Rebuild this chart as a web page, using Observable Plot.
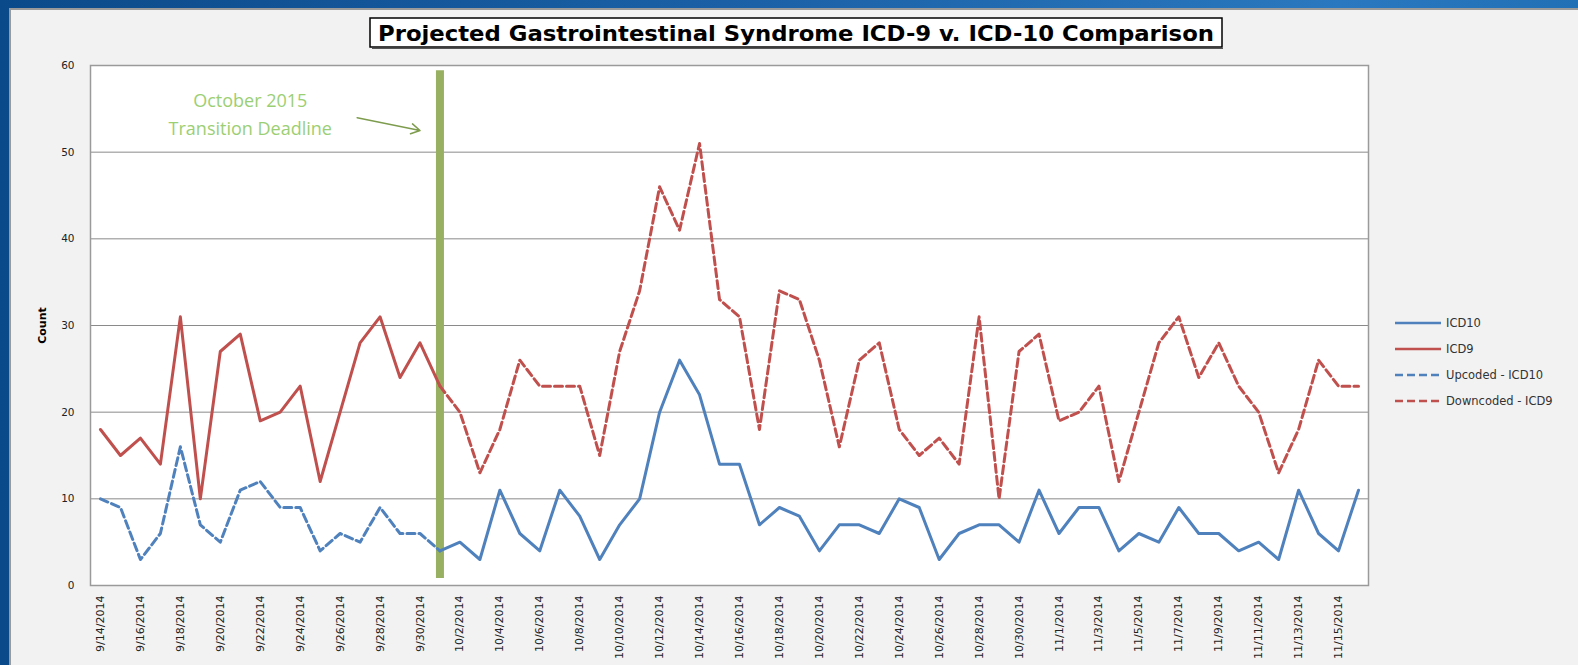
<!DOCTYPE html>
<html>
<head>
<meta charset="utf-8">
<script src="https://cdn.jsdelivr.net/npm/d3@7"></script>
<script src="https://cdn.jsdelivr.net/npm/@observablehq/plot@0.6"></script>
<style>
  html, body { margin: 0; padding: 0; }
  body {
    width: 1578px; height: 665px; overflow: hidden; position: relative;
    background: linear-gradient(90deg, #0b4a8a 0%, #1c62a8 50%, #2a78bf 85%, #2170b6 100%);
    font-family: "DejaVu Sans", Verdana, sans-serif;
  }
  #panel {
    position: absolute; left: 9px; top: 8px; right: 0; bottom: 0;
    background: #f2f2f2; border-top: 2px solid #9a9a9a; border-left: 2px solid #9a9a9a;
  }
  #chart { position: absolute; left: 0; top: 0; }
  #title { position: absolute; left: 369px; top: 17px; }
  #title text { font-family: "DejaVu Sans", sans-serif; font-stretch: condensed; font-weight: bold; }
  #legend { position: absolute; left: 1395px; top: 310px; font-size: 11.5px; color: #333; }
  .row { display: flex; align-items: center; height: 26px; }
  .row svg { margin-right: 5px; }
</style>
</head>
<body>
<div id="panel"></div>
<div id="chart"></div>
<svg id="title" width="856" height="33">
  <rect x="1" y="1" width="852" height="29" fill="#ffffff" stroke="#000" stroke-width="1.5"></rect>
  <line x1="3" y1="31.5" x2="854" y2="31.5" stroke="#555" stroke-width="1"></line>
  <text x="427" y="23.5" text-anchor="middle" font-size="21" textLength="836" lengthAdjust="spacingAndGlyphs" fill="#000">Projected Gastrointestinal Syndrome ICD-9 v. ICD-10 Comparison</text>
</svg>
<div id="legend"></div>
<script>
// ---- data ----
const dates = [
  "9/14/2014","9/15/2014","9/16/2014","9/17/2014","9/18/2014","9/19/2014","9/20/2014","9/21/2014",
  "9/22/2014","9/23/2014","9/24/2014","9/25/2014","9/26/2014","9/27/2014","9/28/2014","9/29/2014",
  "9/30/2014","10/1/2014","10/2/2014","10/3/2014","10/4/2014","10/5/2014","10/6/2014","10/7/2014",
  "10/8/2014","10/9/2014","10/10/2014","10/11/2014","10/12/2014","10/13/2014","10/14/2014","10/15/2014",
  "10/16/2014","10/17/2014","10/18/2014","10/19/2014","10/20/2014","10/21/2014","10/22/2014","10/23/2014",
  "10/24/2014","10/25/2014","10/26/2014","10/27/2014","10/28/2014","10/29/2014","10/30/2014","10/31/2014",
  "11/1/2014","11/2/2014","11/3/2014","11/4/2014","11/5/2014","11/6/2014","11/7/2014","11/8/2014",
  "11/9/2014","11/10/2014","11/11/2014","11/12/2014","11/13/2014","11/14/2014","11/15/2014","11/16/2014"
];
const tickLabels = [
  "9/14/2014","9/16/2014","9/18/2014","9/20/2014","9/22/2014","9/24/2014","9/26/2014","9/28/2014","9/30/2014",
  "10/2/2014","10/4/2014","10/6/2014","10/8/2014","10/10/2014","10/12/2014","10/14/2014","10/16/2014",
  "10/18/2014","10/20/2014","10/22/2014","10/24/2014","10/26/2014","10/28/2014","10/30/2014",
  "11/1/2014","11/3/2014","11/5/2014","11/7/2014","11/9/2014","11/11/2014","11/13/2014","11/15/2014"
];
const yTicks = [0, 10, 20, 30, 40, 50, 60];
const transitionDate = "10/1/2014";

// 9/14 – 10/1
const icd9 = [18,15,17,14,31,10,27,29,19,20,23,12,20,28,31,24,28,23];
const upcodedIcd10 = [10,9,3,6,16,7,5,11,12,9,9,4,6,5,9,6,6,4];
// 10/1 – 11/16
const downcodedIcd9 = [23,20,13,18,26,23,23,23,15,27,34,46,41,51,33,31,18,34,33,26,16,26,28,18,
  15,17,14,31,10,27,29,19,20,23,12,20,28,31,24,28,23,20,13,18,26,23,23];
const icd10 = [4,5,3,11,6,4,11,8,3,7,10,20,26,22,14,14,7,9,8,4,7,7,6,10,
  9,3,6,7,7,5,11,6,9,9,4,6,5,9,6,6,4,5,3,11,6,4,11];

const seriesNames = ["ICD10", "ICD9", "Upcoded - ICD10", "Downcoded - ICD9"];
const seriesColors = ["#4F81BD", "#C0504D", "#4F81BD", "#C0504D"];
const seriesDash = [null, null, "8,4", "8,4"];

// ---- tables ----
const preDates = dates.slice(0, icd9.length);
const postDates = dates.slice(dates.indexOf(transitionDate));
const toTable = (ds, vs) => ds.map((d, i) => ({date: d, value: vs[i]}));
const icd9Table = toTable(preDates, icd9);
const upTable = toTable(preDates, upcodedIcd10);
const downTable = toTable(postDates, downcodedIcd9);
const icd10Table = toTable(postDates, icd10);

const chart = Plot.plot({
  width: 1578,
  height: 665,
  marginLeft: 90,
  marginTop: 65,
  marginRight: 210,
  marginBottom: 80,
  style: {background: "transparent", fontFamily: "'DejaVu Sans', Verdana, sans-serif", overflow: "visible"},
  x: {type: "point", domain: dates, padding: 0.5},
  y: {domain: [0, 60]},
  marks: [
    Plot.frame({fill: "#ffffff"}),
    Plot.ruleY(yTicks.filter(t => t > 0), {stroke: "#8a8a8a", strokeWidth: 1}),
    Plot.ruleX([{date: transitionDate, y1: 0.8, y2: 59.4}], {x: "date", y1: "y1", y2: "y2", stroke: "#98B062", strokeWidth: 8}),
    Plot.line(upTable, {x: "date", y: "value", stroke: seriesColors[2], strokeWidth: 3, strokeDasharray: seriesDash[2]}),
    Plot.line(icd9Table, {x: "date", y: "value", stroke: seriesColors[1], strokeWidth: 3}),
    Plot.line(icd10Table, {x: "date", y: "value", stroke: seriesColors[0], strokeWidth: 3}),
    Plot.line(downTable, {x: "date", y: "value", stroke: seriesColors[3], strokeWidth: 3, strokeDasharray: seriesDash[3]}),
    Plot.frame({stroke: "#9a9a9a", strokeWidth: 1.5}),
    Plot.axisY({ticks: yTicks, tickSize: 0, tickPadding: 16, fontSize: 10.5, fill: "#222", label: "Count", labelAnchor: "center", labelOffset: 52, labelArrow: false}),
    Plot.axisX({ticks: tickLabels, tickSize: 0, tickPadding: 10, tickRotate: -90, fontSize: 11, fill: "#222", label: null}),
    Plot.text([{date: "9/21/2014", y: 54.6, t: "October 2015\nTransition Deadline"}],
      {x: "date", y: "y", text: "t", dx: 10, fill: "#9BCF74", fontSize: 18, lineHeight: 1.55, fontFamily: "'Open Sans', sans-serif", textAnchor: "middle"}),
    Plot.arrow([{x1: "9/27/2014", x2: "9/30/2014", y1: 53.9, y2: 52.5}],
      {x1: "x1", x2: "x2", y1: "y1", y2: "y2", stroke: "#7E9C4E", strokeWidth: 1.5, headLength: 10, insetStart: -3, insetEnd: 0})
  ]
});
document.getElementById("chart").appendChild(chart);

// style the y-axis label to bold
chart.querySelectorAll("text").forEach(t => {
  if (t.textContent === "Count") { t.setAttribute("font-weight", "bold"); t.setAttribute("font-size", "11"); t.setAttribute("fill", "#000"); }
});

// ---- legend ----
const legend = document.getElementById("legend");
seriesNames.forEach((name, i) => {
  const row = document.createElement("div");
  row.className = "row";
  row.innerHTML = `<svg width="46" height="6"><line x1="0" y1="3" x2="46" y2="3" stroke="${seriesColors[i]}" stroke-width="2.5" ${seriesDash[i] ? `stroke-dasharray="${seriesDash[i]}"` : ""}/></svg><span>${name}</span>`;
  legend.appendChild(row);
});
</script>
</body>
</html>
